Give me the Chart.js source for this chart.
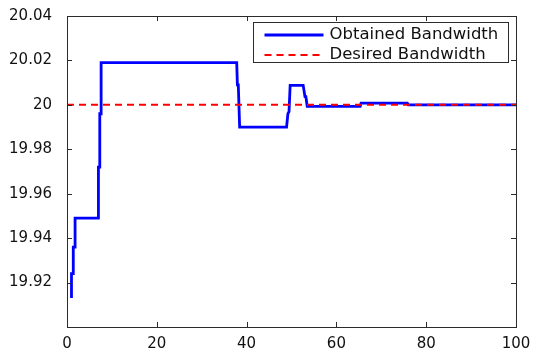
<!DOCTYPE html>
<html>
<head>
<meta charset="utf-8">
<script src="https://cdn.jsdelivr.net/npm/chart.js@4.4.0/dist/chart.umd.min.js"></script>
<style>
  html, body { margin: 0; padding: 0; background: #fff; }
</style>
</head>
<body>
<canvas id="bwChart" width="536" height="350"></canvas>
<script>
// Bandwidth trace (step response) and the target level
const obtainedX = [1.0, 1.0, 1.4, 1.4, 1.8, 1.8, 7.0, 7.0, 7.3, 7.3, 7.6, 7.6,
  37.8, 37.95, 38.15, 38.45, 48.9, 49.2, 49.45, 49.7, 52.6, 53.0, 53.2, 53.5,
  65.3, 65.5, 75.8, 76.0, 100];
const obtainedY = [19.913, 19.924, 19.924, 19.936, 19.936, 19.949, 19.949, 19.972, 19.972, 19.996, 19.996, 20.019,
  20.019, 20.009, 20.009, 19.990, 19.990, 19.996, 19.997, 20.0088, 20.0088, 20.0037, 20.0037, 19.9993,
  19.9993, 20.0008, 20.0008, 20.0, 20.0];
const desiredX = [0, 100];
const desiredY = [20, 20];
const seriesNames = ['Obtained Bandwidth', 'Desired Bandwidth'];
const xTicks = [0, 20, 40, 60, 80, 100];
const yTicks = [19.9, 19.92, 19.94, 19.96, 19.98, 20, 20.02, 20.04];

const FONT = 'DejaVu Sans';
const AXIS = '#2b2b2b';

function toPoints(xs, ys) {
  return xs.map((x, i) => ({ x: x, y: ys[i] }));
}

// MATLAB-ish box with inward ticks on all four sides, plus the legend
const boxPlugin = {
  id: 'boxPlugin',
  afterDraw(chart) {
    const { ctx, chartArea: a, scales } = chart;
    ctx.save();
    ctx.strokeStyle = AXIS;
    ctx.lineWidth = 1;
    ctx.strokeRect(Math.round(a.left) + 0.5, Math.round(a.top) + 0.5,
      Math.round(a.right - a.left), Math.round(a.bottom - a.top));

    const tl = 5;
    ctx.beginPath();
    xTicks.forEach(v => {
      const px = Math.round(scales.x.getPixelForValue(v)) + 0.5;
      ctx.moveTo(px, a.bottom); ctx.lineTo(px, a.bottom - tl);
      ctx.moveTo(px, a.top); ctx.lineTo(px, a.top + tl);
    });
    yTicks.forEach(v => {
      const py = Math.round(scales.y.getPixelForValue(v)) + 0.5;
      ctx.moveTo(a.left, py); ctx.lineTo(a.left + tl, py);
      ctx.moveTo(a.right, py); ctx.lineTo(a.right - tl, py);
    });
    ctx.stroke();

    // legend
    const w = 255, h = 40;
    const lx = Math.round(a.right - 8 - w) + 0.5;
    const ly = Math.round(a.top + 6) + 0.5;
    ctx.fillStyle = '#fff';
    ctx.fillRect(lx, ly, w, h);
    ctx.strokeStyle = AXIS;
    ctx.strokeRect(lx, ly, w, h);

    ctx.font = '15px "' + FONT + '"';
    ctx.textBaseline = 'middle';
    chart.data.datasets.forEach((ds, i) => {
      const rowY = ly + 12.5 + i * 20;
      ctx.strokeStyle = ds.borderColor;
      ctx.lineWidth = ds.borderWidth;
      ctx.setLineDash(ds.borderDash || []);
      ctx.beginPath();
      ctx.moveTo(lx + 11, rowY);
      ctx.lineTo(lx + 70, rowY);
      ctx.stroke();
      ctx.setLineDash([]);
      ctx.fillStyle = '#111';
      ctx.save();
      ctx.translate(lx + 76, rowY);
      ctx.scale(1.1, 1);
      ctx.fillText(ds.label, 0, 0);
      ctx.restore();
    });
    ctx.restore();
  }
};

new Chart(document.getElementById('bwChart').getContext('2d'), {
  type: 'line',
  data: {
    datasets: [
      {
        label: seriesNames[0],
        data: toPoints(obtainedX, obtainedY),
        borderColor: '#0000ff',
        borderWidth: 2.8,
        pointRadius: 0,
        tension: 0,
        fill: false,
        order: 1
      },
      {
        label: seriesNames[1],
        data: toPoints(desiredX, desiredY),
        borderColor: '#ff0000',
        borderWidth: 2,
        borderDash: [7, 5],
        pointRadius: 0,
        tension: 0,
        fill: false,
        order: 0
      }
    ]
  },
  options: {
    responsive: false,
    animation: false,
    layout: { padding: { top: 12, right: 20, left: 0, bottom: 0 } },
    plugins: {
      legend: { display: false },
      tooltip: { enabled: false }
    },
    scales: {
      x: {
        type: 'linear',
        min: 0,
        max: 100,
        afterBuildTicks: s => { s.ticks = xTicks.map(v => ({ value: v })); },
        afterFit: s => { s.height = 23; },
        grid: { display: false },
        border: { display: false },
        ticks: {
          color: '#111',
          padding: 0,
          maxRotation: 0,
          font: { family: FONT, size: 15 }
        }
      },
      y: {
        type: 'linear',
        min: 19.9,
        max: 20.04,
        afterBuildTicks: s => { s.ticks = yTicks.map(v => ({ value: v })); },
        afterFit: s => { s.width = 67; },
        grid: { display: false },
        border: { display: false },
        ticks: {
          color: '#111',
          padding: 7,
          font: { family: FONT, size: 15 },
          callback: v => {
            const r = Math.round(v * 100) / 100;
            return r < 19.91 ? '' : String(r);
          }
        }
      }
    }
  },
  plugins: [boxPlugin]
});
</script>
</body>
</html>
